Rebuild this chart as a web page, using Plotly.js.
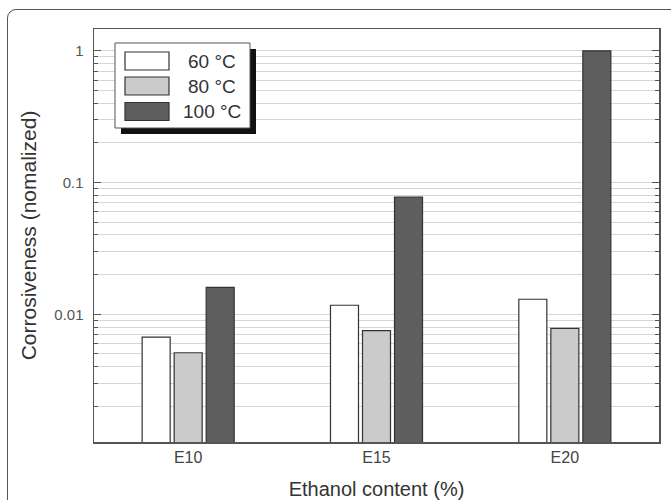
<!DOCTYPE html>
<html><head><meta charset="utf-8">
<script src="https://cdn.plot.ly/plotly-3.0.1.min.js"></script>
<style>
html,body{margin:0;padding:0;background:#fff;overflow:hidden;}
#frame{position:absolute;left:7px;top:9px;width:720px;height:560px;border:1px solid #555;border-radius:9px;box-sizing:border-box;}
#chart{position:absolute;left:0;top:0;width:671px;height:500px;}
</style></head><body>
<div id="frame"></div>
<div id="chart"></div>
<script>
// ---- data ----
const categories = ['E10', 'E15', 'E20'];
const seriesNames = ['60 \u00B0C', '80 \u00B0C', '100 \u00B0C'];
const values60 = [0.0067, 0.0117, 0.0130];
const values80 = [0.0051, 0.0075, 0.0078];
const values100 = [0.0160, 0.0775, 1.0];
const seriesColors = ['#ffffff', '#cbcbcb', '#5e5e5e'];
const majorTicks = [0.01, 0.1, 1];
const majorLabels = ['0.01', '0.1', '1'];
const minorTicks = [0.002, 0.003, 0.004, 0.005, 0.006, 0.007, 0.008, 0.009,
                    0.02, 0.03, 0.04, 0.05, 0.06, 0.07, 0.08, 0.09,
                    0.2, 0.3, 0.4, 0.5, 0.6, 0.7, 0.8, 0.9];
const xTitle = 'Ethanol content (%)';
const yTitle = 'Corrosiveness (nomalized)';

// ---- layout helpers ----
const W = 671, H = 500;
const M = {l: 94, r: 12, t: 29, b: 58};
const pw = W - M.l - M.r, ph = H - M.t - M.b;
const px = v => (v - M.l) / pw;
const py = v => (H - M.b - v) / ph;
const FONT = 'Liberation Sans, Arial, Helvetica, sans-serif';

const allValues = [values60, values80, values100];
const traces = allValues.map((vals, i) => ({
  type: 'bar',
  name: seriesNames[i],
  x: categories,
  y: vals,
  marker: {color: seriesColors[i], line: {color: '#333', width: 1.2}},
  showlegend: false,
  hoverinfo: 'x+y+name'
}));

// custom legend (box with shadow, wide swatches)
const shapes = [
  {type: 'rect', xref: 'paper', yref: 'paper', x0: px(121), x1: px(256), y0: py(134), y1: py(49),
   fillcolor: '#111', line: {width: 0}},
  {type: 'rect', xref: 'paper', yref: 'paper', x0: px(115), x1: px(250), y0: py(128), y1: py(43),
   fillcolor: '#fff', line: {color: '#555', width: 1}}
];
const annotations = [];
const rowCenters = [61, 86, 111.5];
seriesNames.forEach((n, i) => {
  shapes.push({type: 'rect', xref: 'paper', yref: 'paper',
    x0: px(125), x1: px(169), y0: py(rowCenters[i] + 9), y1: py(rowCenters[i] - 9),
    fillcolor: seriesColors[i], line: {color: '#333', width: 1.2}});
  annotations.push({xref: 'paper', yref: 'paper', x: px(212), y: py(rowCenters[i]),
    text: n, showarrow: false, xanchor: 'center', yanchor: 'middle',
    font: {family: FONT, size: 19, color: '#333'}});
});

const layout = {
  width: W, height: H,
  margin: M,
  paper_bgcolor: 'rgba(0,0,0,0)',
  plot_bgcolor: '#ffffff',
  font: {family: FONT, color: '#444'},
  barmode: 'group',
  bargap: 0.49,
  bargroupgap: 0.125,
  showlegend: false,
  xaxis: {
    type: 'category', range: [-0.5, 2.5], automargin: false,
    showline: true, mirror: true, linecolor: '#555', linewidth: 1.5,
    ticks: '', showgrid: false, zeroline: false,
    tickfont: {family: FONT, size: 16, color: '#444'},
    title: {text: xTitle, font: {family: FONT, size: 20, color: '#333'}, standoff: 18}
  },
  yaxis: {
    type: 'log', range: [-2.97, 0.166], automargin: false,
    tickmode: 'array', tickvals: majorTicks, ticktext: majorLabels,
    ticks: 'inside', ticklen: 7, tickwidth: 1.2, tickcolor: '#555',
    showline: true, mirror: 'allticks', linecolor: '#555', linewidth: 1.5,
    showgrid: true, gridcolor: '#d6d6d6', gridwidth: 1, zeroline: false,
    ticklabelstandoff: 6,
    tickfont: {family: FONT, size: 15, color: '#555'},
    minor: {tickmode: 'array', tickvals: minorTicks, ticks: 'inside', ticklen: 4,
            tickcolor: '#555', tickwidth: 1, showgrid: true, gridcolor: '#d6d6d6', gridwidth: 1},
    title: {text: yTitle, font: {family: FONT, size: 21, color: '#333'}, standoff: 12}
  },
  shapes: shapes,
  annotations: annotations
};

Plotly.newPlot('chart', traces, layout, {displayModeBar: false, staticPlot: true});
</script>
</body></html>
